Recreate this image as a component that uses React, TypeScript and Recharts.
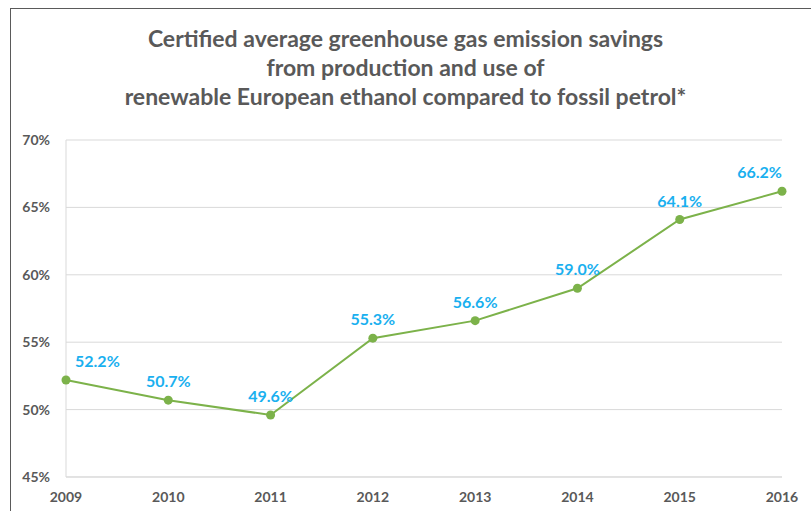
import React from "react";
import { LineChart, Line, XAxis, YAxis, CartesianGrid, LabelList } from "recharts";

const years = ["2009", "2010", "2011", "2012", "2013", "2014", "2015", "2016"];
const savings = [52.2, 50.7, 49.6, 55.3, 56.6, 59.0, 64.1, 66.2];
const yTicks = [45, 50, 55, 60, 65, 70];
const titleLines = [
  "Certified average greenhouse gas emission savings",
  "from production and use of",
  "renewable European ethanol compared to fossil petrol*",
];

const data = years.map((y, i) => ({ year: y, value: savings[i] }));

const GRAY = "#595959";
const GREEN = "#7cb24a";
const BLUE = "#1ab0ef";
const FONT = "Lato, 'Open Sans', sans-serif";

const ValueLabel = (props: any) => {
  const { x, y, value, index } = props;
  let anchor: "middle" | "start" | "end" = "middle";
  let lx = x;
  if (index === 0) {
    anchor = "start";
    lx = x + 9;
  } else if (index === data.length - 1) {
    anchor = "end";
    lx = x;
  }
  return (
    <text
      x={lx}
      y={y - 17}
      textAnchor={anchor}
      dominantBaseline="middle"
      fill={BLUE}
      fontSize={16}
      fontWeight="bold"
      fontFamily={FONT}
    >
      {`${Number(value).toFixed(1)}%`}
    </text>
  );
};

export default function App() {
  return (
    <div style={{ position: "absolute", left: 0, top: 0, width: 811, height: 511, background: "#fff", overflow: "hidden" }}>
      <div
        style={{
          position: "absolute",
          left: 10,
          top: 8,
          width: 811,
          height: 520,
          borderLeft: "1.5px solid #5a5a5a",
          borderTop: "1.5px solid #5a5a5a",
        }}
      />
      <div
        style={{
          position: "absolute",
          left: 0,
          top: 24,
          width: 811,
          textAlign: "center",
          fontFamily: FONT,
          fontWeight: "bold",
          fontSize: 23,
          lineHeight: "29px",
          color: GRAY,
        }}
      >
        {titleLines.map((t) => (
          <div key={t}>{t}</div>
        ))}
      </div>
      <div style={{ position: "absolute", left: 0, top: 0 }}>
        <LineChart width={811} height={511} data={data} margin={{ top: 140, right: 29, left: 0, bottom: 0 }}>
          <CartesianGrid vertical={false} stroke="#d9d9d9" strokeWidth={1} />
          <XAxis
            dataKey="year"
            height={34}
            axisLine={{ stroke: "#d9d9d9", strokeWidth: 1 }}
            tickLine={false}
            tickMargin={9}
            interval={0}
            tick={{ fill: GRAY, fontSize: 14, fontWeight: "bold", fontFamily: FONT }}
          />
          <YAxis
            width={66}
            domain={[45, 70]}
            ticks={yTicks}
            axisLine={{ stroke: "#d9d9d9", strokeWidth: 1 }}
            tickLine={false}
            tickMargin={10}
            tickFormatter={(v: number) => `${v}%`}
            tick={{ fill: GRAY, fontSize: 14, fontWeight: "bold", fontFamily: FONT }}
          />
          <Line
            type="linear"
            dataKey="value"
            stroke={GREEN}
            strokeWidth={2}
            dot={{ r: 4.5, fill: GREEN, stroke: GREEN, strokeWidth: 0 }}
            isAnimationActive={false}
          >
            <LabelList dataKey="value" content={<ValueLabel />} />
          </Line>
        </LineChart>
      </div>
    </div>
  );
}
